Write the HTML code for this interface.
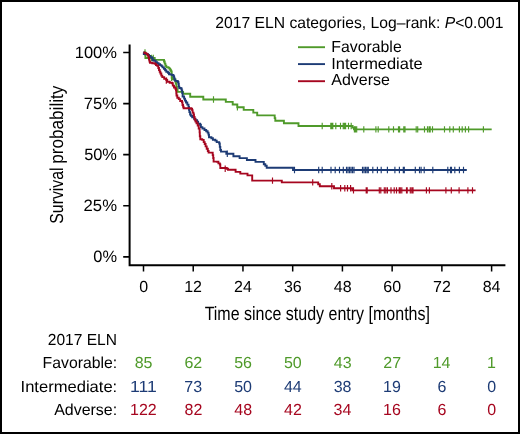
<!DOCTYPE html>
<html><head><meta charset="utf-8"><style>
html,body{margin:0;padding:0;background:#fff;}
body{width:520px;height:434px;overflow:hidden;}
svg{display:block;font-family:"Liberation Sans", sans-serif;will-change:transform;text-rendering:geometricPrecision;}
</style></head><body>
<svg width="520" height="434" viewBox="0 0 520 434">
<rect x="0" y="0" width="520" height="434" fill="#fff"/>
<rect x="1" y="1" width="518" height="432" fill="none" stroke="#000" stroke-width="2"/>
<path d="M129.6,44.4V265.2H505.4" fill="none" stroke="#000" stroke-width="2.0" stroke-linecap="butt" stroke-linejoin="miter"/>
<path d="M123.2,52.50H130M123.2,103.58H130M123.2,154.65H130M123.2,205.73H130M123.2,256.80H130" stroke="#000" stroke-width="1.7"/>
<path d="M143.50,265V271.6M193.23,265V271.6M242.96,265V271.6M292.69,265V271.6M342.42,265V271.6M392.15,265V271.6M441.88,265V271.6M491.61,265V271.6" stroke="#000" stroke-width="1.5"/>
<text x="74.74" y="58.00" font-size="16.50" fill="#000" textLength="42.25" lengthAdjust="spacingAndGlyphs">100%</text>
<text x="83.85" y="109.00" font-size="16.50" fill="#000" textLength="33.14" lengthAdjust="spacingAndGlyphs">75%</text>
<text x="84.14" y="160.00" font-size="16.50" fill="#000" textLength="32.84" lengthAdjust="spacingAndGlyphs">50%</text>
<text x="83.56" y="211.00" font-size="16.50" fill="#000" textLength="33.44" lengthAdjust="spacingAndGlyphs">25%</text>
<text x="93.26" y="262.00" font-size="16.50" fill="#000" textLength="23.73" lengthAdjust="spacingAndGlyphs">0%</text>
<text x="139.15" y="292.00" font-size="16.00" fill="#000" textLength="8.90" lengthAdjust="spacingAndGlyphs">0</text>
<text x="184.22" y="292.00" font-size="16.00" fill="#000" textLength="17.80" lengthAdjust="spacingAndGlyphs">12</text>
<text x="233.99" y="292.00" font-size="16.00" fill="#000" textLength="17.80" lengthAdjust="spacingAndGlyphs">24</text>
<text x="283.94" y="292.00" font-size="16.00" fill="#000" textLength="17.80" lengthAdjust="spacingAndGlyphs">36</text>
<text x="333.79" y="292.00" font-size="16.00" fill="#000" textLength="17.80" lengthAdjust="spacingAndGlyphs">48</text>
<text x="383.26" y="292.00" font-size="16.00" fill="#000" textLength="17.80" lengthAdjust="spacingAndGlyphs">60</text>
<text x="433.07" y="292.00" font-size="16.00" fill="#000" textLength="17.80" lengthAdjust="spacingAndGlyphs">72</text>
<text x="482.70" y="292.00" font-size="16.00" fill="#000" textLength="17.80" lengthAdjust="spacingAndGlyphs">84</text>
<text x="204.64" y="320.00" font-size="19.30" fill="#000" textLength="225.30" lengthAdjust="spacingAndGlyphs">Time since study entry [months]</text>
<g transform="translate(62.9,223.0) rotate(-90)"><text x="-0.72" y="0.00" font-size="18.80" fill="#000" textLength="56.28" lengthAdjust="spacingAndGlyphs">Survival</text><text x="59.30" y="0.00" font-size="18.80" fill="#000" textLength="78.04" lengthAdjust="spacingAndGlyphs">probability</text></g>
<text x="215.31" y="28.00" font-size="16.00" fill="#000" textLength="288.26" lengthAdjust="spacingAndGlyphs">2017 ELN categories, Log–rank: <tspan font-style="italic">P</tspan>&lt;0.001</text>
<path d="M298,47.20H325" stroke="#4f9a2a" stroke-width="1.9"/>
<text x="331.30" y="52.00" font-size="16.00" fill="#000" textLength="70.40" lengthAdjust="spacingAndGlyphs">Favorable</text>
<path d="M298,64.10H325" stroke="#1d3b75" stroke-width="1.9"/>
<text x="331.25" y="69.00" font-size="16.00" fill="#000" textLength="91.38" lengthAdjust="spacingAndGlyphs">Intermediate</text>
<path d="M298,81.20H325" stroke="#a6061f" stroke-width="1.9"/>
<text x="331.29" y="85.00" font-size="16.00" fill="#000" textLength="58.72" lengthAdjust="spacingAndGlyphs">Adverse</text>
<path d="M143.50,52.50H145.40V58.00H154.70V59.90H163.20H164.00V61.50H164.70V63.60H165.40V65.80H166.30V67.20H168.50V67.90H169.50V68.90H170.30V70.30H171.10V71.50H171.70V73.50V77.70H172.60V79.30H174.60H175.30V81.50H175.80V83.50H176.40V86.60H176.90V89.50H177.60V91.90H183.10V93.70H190.20V96.80H203.30V99.50H225.80V101.90H232.70V104.50H237.30V107.20H243.70V109.90H253.30V112.60H257.20V115.40H274.70V118.10H275.30V120.70H283.90V123.30H298.50V126.00H352.60V127.60H354.00V129.40H491.70" fill="none" stroke="#4f9a2a" stroke-width="1.9" stroke-linejoin="miter" stroke-linecap="butt"/>
<path d="M145.00,49.30V55.70M151.50,54.80V61.20M153.30,54.80V61.20M171.60,74.50V80.90M213.50,96.30V102.70M237.40,104.00V110.40M322.20,122.80V129.20M330.80,122.80V129.20M331.80,122.80V129.20M332.80,122.80V129.20M335.80,122.80V129.20M340.50,122.80V129.20M343.20,122.80V129.20M344.40,122.80V129.20M345.60,122.80V129.20M348.50,122.80V129.20M351.20,122.80V129.20M354.40,126.20V132.60M355.50,126.20V132.60M356.70,126.20V132.60M363.80,126.20V132.60M375.90,126.20V132.60M378.20,126.20V132.60M388.80,126.20V132.60M393.50,126.20V132.60M398.50,126.20V132.60M399.60,126.20V132.60M403.80,126.20V132.60M405.00,126.20V132.60M416.20,126.20V132.60M417.70,126.20V132.60M424.50,126.20V132.60M427.50,126.20V132.60M429.10,126.20V132.60M430.20,126.20V132.60M432.50,126.20V132.60M444.50,126.20V132.60M449.80,126.20V132.60M453.30,126.20V132.60M459.40,126.20V132.60M462.20,126.20V132.60M465.40,126.20V132.60M468.60,126.20V132.60M483.40,126.20V132.60" fill="none" stroke="#4f9a2a" stroke-width="1.15"/>
<path d="M143.50,52.50H143.80V54.00H146.80H147.80V55.00H149.00V56.00H150.10V57.20H152.00V58.20H152.70V60.20H154.30V60.80H155.70V62.20H157.20V63.20H158.60V64.20H160.10V65.10H161.50V66.10H162.50V67.40H163.90V68.90H165.10V70.30H166.30V71.70H167.90V72.70H169.00V74.20H170.60V74.60H172.20V75.00H173.40V76.20H174.10V77.70H174.50V79.70H175.30V80.90H176.90V81.30H178.00V82.00H178.40V83.70H178.80V86.60H179.30V88.00H180.80V88.50H181.70V90.40H182.20V93.00H182.60V96.50H184.10V98.60H185.00V100.60H186.00V102.50H187.30V104.60H188.50V107.00H189.00V109.70H189.40V112.10H190.10V114.50H190.90V115.90H192.20V117.40H194.10V118.80H195.40V120.30H197.10V121.80H198.10V123.70H200.10V124.70H200.90V127.10H202.40V128.50H204.50V130.00H206.20V131.20H207.60V132.60H208.50V134.60H209.00V137.20H211.40V138.20H212.90V139.70H215.30V140.60H216.70V142.10H219.20V143.50H219.80V146.90H220.30V150.00H221.00V151.60H226.30V153.80H233.40V156.20H239.60V158.10H246.90V160.00H255.50V161.90H263.80V164.20H265.30V165.70H266.70V167.70H293.00V170.00H466.80" fill="none" stroke="#1d3b75" stroke-width="1.9" stroke-linejoin="miter" stroke-linecap="butt"/>
<path d="M227.30,150.60V157.00M294.50,166.80V173.20M318.70,166.80V173.20M322.20,166.80V173.20M331.00,166.80V173.20M335.20,166.80V173.20M339.50,166.80V173.20M343.30,166.80V173.20M346.50,166.80V173.20M348.00,166.80V173.20M349.50,166.80V173.20M351.00,166.80V173.20M352.50,166.80V173.20M354.00,166.80V173.20M362.50,166.80V173.20M364.00,166.80V173.20M365.50,166.80V173.20M367.00,166.80V173.20M368.30,166.80V173.20M372.80,166.80V173.20M377.40,166.80V173.20M381.20,166.80V173.20M387.40,166.80V173.20M394.90,166.80V173.20M399.40,166.80V173.20M403.30,166.80V173.20M404.30,166.80V173.20M415.30,166.80V173.20M419.50,166.80V173.20M421.10,166.80V173.20M424.20,166.80V173.20M432.80,166.80V173.20M447.80,166.80V173.20M450.50,166.80V173.20M451.50,166.80V173.20M454.80,166.80V173.20M459.40,166.80V173.20M463.50,166.80V173.20" fill="none" stroke="#1d3b75" stroke-width="1.15"/>
<path d="M143.50,52.50H144.50V53.00H145.80V53.60H147.00V54.40H147.80V55.50H148.50V57.30H149.00V59.50H149.50V61.50H150.00V62.80H152.30V63.30H154.80V63.90H156.00V65.10H157.20V65.80H158.30V68.00H159.00V70.00H159.70V71.80H160.40V73.50H161.30V75.60H162.30V77.10H164.20V78.70H166.30V80.00H167.20V81.70H169.70V82.70H172.10V83.20H172.80V85.60H174.00V87.50H175.40V88.70H176.00V90.40H176.30V93.30H176.50V95.50H177.30V97.70H178.80V99.10H180.20V101.00H182.00V102.40H182.50V105.00H183.10V106.80H183.60V108.20H189.20H191.10V108.70H192.10V110.10H192.60V112.60H193.50V114.50H194.00V116.90H194.60V119.50H195.50V121.50H196.50V123.20H197.70V125.60H198.70V128.50H199.60V132.40H199.80V136.30H200.30V139.20H202.20V139.90H203.70V142.10H204.70V144.00H205.60V146.40H206.70V148.80H207.80V151.00H208.60V152.60H212.30H212.70V155.10H213.20V158.00H213.60V161.60H217.00V161.80H218.40V163.40H219.80V164.50H220.30V168.00H226.80V168.80H228.00V169.70H235.60V171.90H240.30V173.60H247.50V175.40H252.20V180.60H281.80V182.40H318.20V184.20H319.80V186.20H334.00V188.20H352.20V190.40H475.60" fill="none" stroke="#a6061f" stroke-width="1.9" stroke-linejoin="miter" stroke-linecap="butt"/>
<path d="M166.30,77.40V83.80M225.20,165.60V172.00M272.50,177.40V183.80M312.70,179.20V185.60M331.80,183.00V189.40M340.60,185.00V191.40M344.80,185.00V191.40M347.50,185.00V191.40M350.60,185.00V191.40M353.50,187.20V193.60M366.20,187.20V193.60M367.20,187.20V193.60M379.30,187.20V193.60M380.80,187.20V193.60M384.30,187.20V193.60M385.80,187.20V193.60M387.40,187.20V193.60M391.00,187.20V193.60M394.20,187.20V193.60M396.50,187.20V193.60M399.20,187.20V193.60M400.30,187.20V193.60M401.80,187.20V193.60M406.50,187.20V193.60M407.20,187.20V193.60M410.30,187.20V193.60M411.80,187.20V193.60M413.00,187.20V193.60M426.40,187.20V193.60M429.40,187.20V193.60M445.90,187.20V193.60M451.30,187.20V193.60M459.10,187.20V193.60M467.90,187.20V193.60M472.50,187.20V193.60" fill="none" stroke="#a6061f" stroke-width="1.15"/>
<text x="47.82" y="345.00" font-size="16.00" fill="#000" textLength="69.15" lengthAdjust="spacingAndGlyphs">2017 ELN</text>
<text x="42.61" y="368.00" font-size="16.00" fill="#000" textLength="74.53" lengthAdjust="spacingAndGlyphs">Favorable:</text>
<text x="134.69" y="368.00" font-size="16.00" fill="#4f9a2a" textLength="17.80" lengthAdjust="spacingAndGlyphs">85</text>
<text x="184.43" y="368.00" font-size="16.00" fill="#4f9a2a" textLength="17.80" lengthAdjust="spacingAndGlyphs">62</text>
<text x="234.19" y="368.00" font-size="16.00" fill="#4f9a2a" textLength="17.80" lengthAdjust="spacingAndGlyphs">56</text>
<text x="283.88" y="368.00" font-size="16.00" fill="#4f9a2a" textLength="17.80" lengthAdjust="spacingAndGlyphs">50</text>
<text x="333.79" y="368.00" font-size="16.00" fill="#4f9a2a" textLength="17.80" lengthAdjust="spacingAndGlyphs">43</text>
<text x="383.35" y="368.00" font-size="16.00" fill="#4f9a2a" textLength="17.80" lengthAdjust="spacingAndGlyphs">27</text>
<text x="432.71" y="368.00" font-size="16.00" fill="#4f9a2a" textLength="17.80" lengthAdjust="spacingAndGlyphs">14</text>
<text x="487.04" y="368.00" font-size="16.00" fill="#4f9a2a" textLength="8.90" lengthAdjust="spacingAndGlyphs">1</text>
<text x="20.57" y="392.00" font-size="16.00" fill="#000" textLength="96.64" lengthAdjust="spacingAndGlyphs">Intermediate:</text>
<text x="130.03" y="392.00" font-size="16.00" fill="#1d3b75" textLength="26.70" lengthAdjust="spacingAndGlyphs">111</text>
<text x="184.37" y="392.00" font-size="16.00" fill="#1d3b75" textLength="17.80" lengthAdjust="spacingAndGlyphs">73</text>
<text x="234.15" y="392.00" font-size="16.00" fill="#1d3b75" textLength="17.80" lengthAdjust="spacingAndGlyphs">50</text>
<text x="283.94" y="392.00" font-size="16.00" fill="#1d3b75" textLength="17.80" lengthAdjust="spacingAndGlyphs">44</text>
<text x="333.66" y="392.00" font-size="16.00" fill="#1d3b75" textLength="17.80" lengthAdjust="spacingAndGlyphs">38</text>
<text x="383.12" y="392.00" font-size="16.00" fill="#1d3b75" textLength="17.80" lengthAdjust="spacingAndGlyphs">19</text>
<text x="437.48" y="392.00" font-size="16.00" fill="#1d3b75" textLength="8.90" lengthAdjust="spacingAndGlyphs">6</text>
<text x="487.26" y="392.00" font-size="16.00" fill="#1d3b75" textLength="8.90" lengthAdjust="spacingAndGlyphs">0</text>
<text x="54.17" y="415.00" font-size="16.00" fill="#000" textLength="62.99" lengthAdjust="spacingAndGlyphs">Adverse:</text>
<text x="130.05" y="415.00" font-size="16.00" fill="#a6061f" textLength="26.70" lengthAdjust="spacingAndGlyphs">122</text>
<text x="184.49" y="415.00" font-size="16.00" fill="#a6061f" textLength="17.80" lengthAdjust="spacingAndGlyphs">82</text>
<text x="234.33" y="415.00" font-size="16.00" fill="#a6061f" textLength="17.80" lengthAdjust="spacingAndGlyphs">48</text>
<text x="284.11" y="415.00" font-size="16.00" fill="#a6061f" textLength="17.80" lengthAdjust="spacingAndGlyphs">42</text>
<text x="333.55" y="415.00" font-size="16.00" fill="#a6061f" textLength="17.80" lengthAdjust="spacingAndGlyphs">34</text>
<text x="383.09" y="415.00" font-size="16.00" fill="#a6061f" textLength="17.80" lengthAdjust="spacingAndGlyphs">16</text>
<text x="437.48" y="415.00" font-size="16.00" fill="#a6061f" textLength="8.90" lengthAdjust="spacingAndGlyphs">6</text>
<text x="487.26" y="415.00" font-size="16.00" fill="#a6061f" textLength="8.90" lengthAdjust="spacingAndGlyphs">0</text>
</svg>
</body></html>
